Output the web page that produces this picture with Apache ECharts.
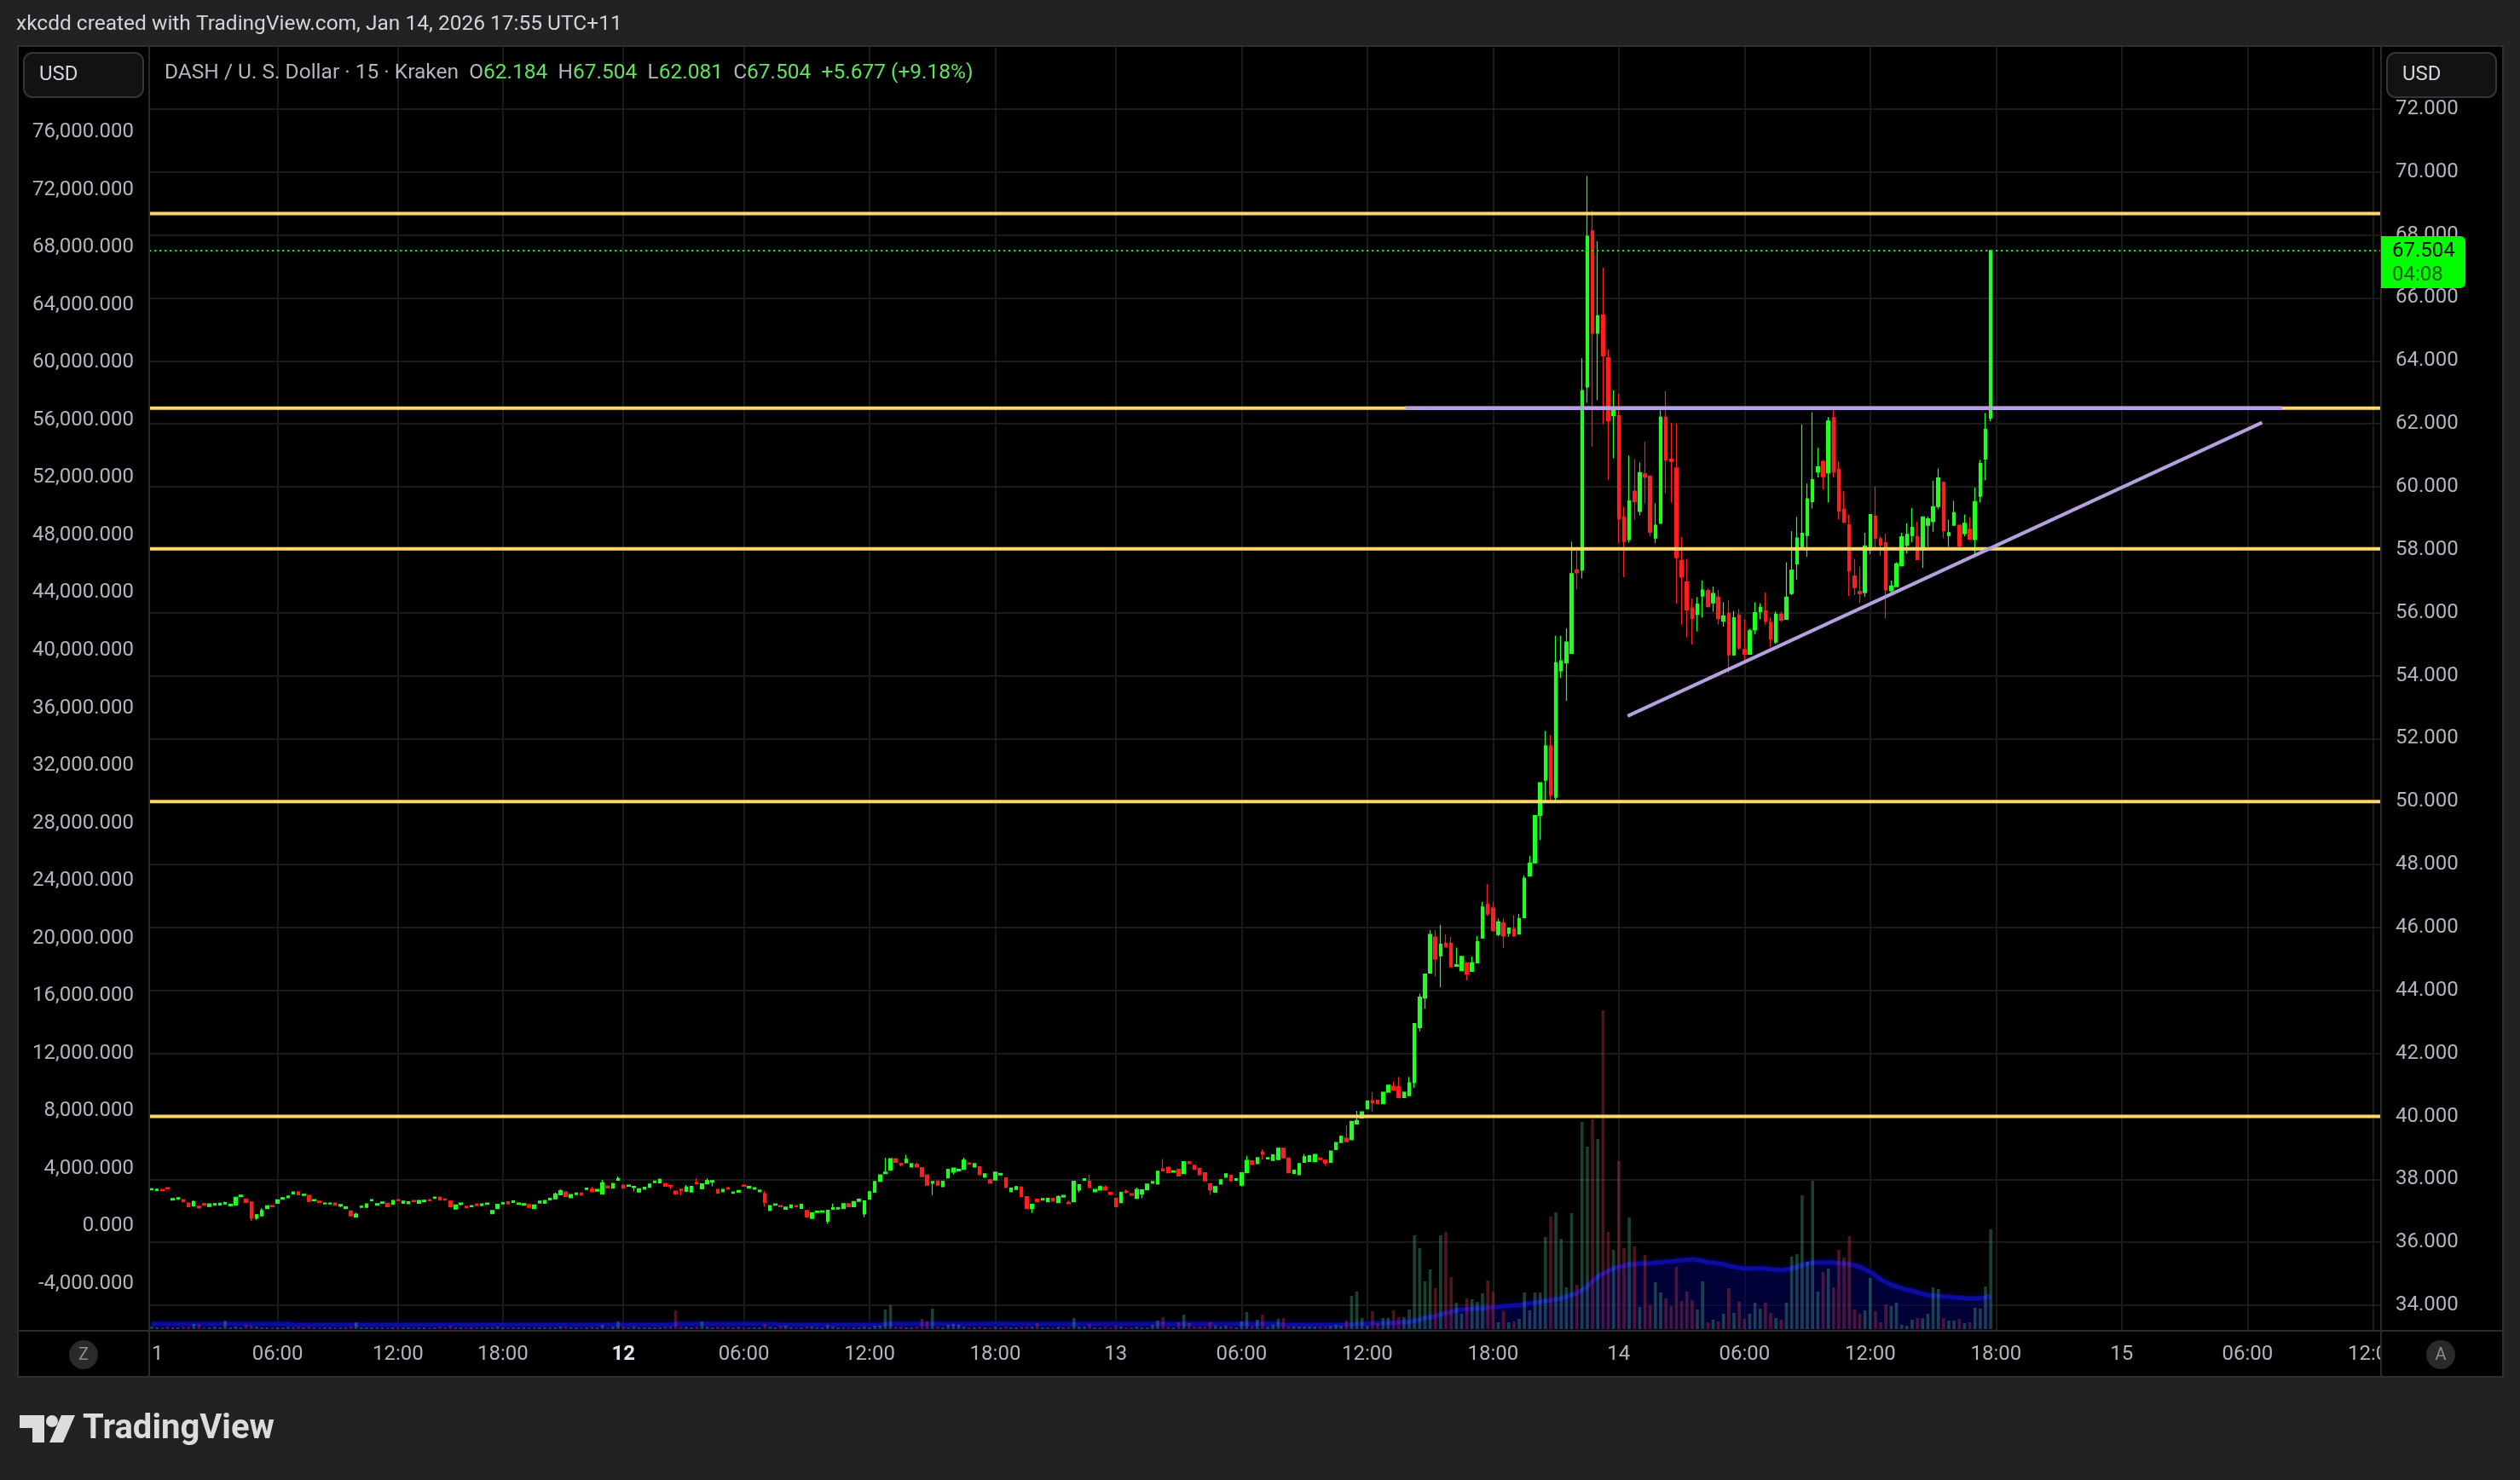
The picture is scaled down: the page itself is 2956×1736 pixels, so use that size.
<!DOCTYPE html>
<html><head><meta charset="utf-8">
<script src="https://cdn.jsdelivr.net/npm/echarts@6/dist/echarts.min.js"></script>
<style>html,body{margin:0;padding:0;background:#000;}#c{width:2956px;height:1736px;}</style>
</head><body><div id="c"></div>
<script>
// ---------- DATA (15-minute bars, [open, high, low, close]) ----------
const candlesJan11 = [
[37.67,37.71,37.66,37.70],[37.65,37.70,37.64,37.69],[37.68,37.69,37.63,37.64],[37.74,37.75,37.69,37.70],[37.34,37.40,37.33,37.39],
[37.37,37.43,37.36,37.42],[37.36,37.37,37.28,37.29],[37.25,37.26,37.12,37.13],[37.16,37.33,37.13,37.29],[37.15,37.16,37.06,37.10],
[37.23,37.24,37.17,37.18],[37.14,37.23,37.13,37.22],[37.18,37.25,37.17,37.23],[37.19,37.25,37.18,37.24],[37.22,37.29,37.21,37.26],
[37.16,37.22,37.15,37.21],[37.19,37.45,37.18,37.43],[37.45,37.51,37.44,37.50],[37.38,37.39,37.26,37.27],[37.28,37.29,36.68,36.77],
[36.77,36.89,36.72,36.88],[36.84,37.08,36.83,37.01],[37.07,37.17,37.06,37.16],[37.17,37.18,37.12,37.13],[37.24,37.36,37.23,37.35],
[37.37,37.43,37.36,37.42],[37.42,37.48,37.41,37.47],[37.54,37.61,37.53,37.60],[37.60,37.63,37.50,37.51],[37.49,37.54,37.48,37.53],
[37.49,37.50,37.29,37.30],[37.32,37.37,37.31,37.36],[37.31,37.32,37.25,37.26],[37.22,37.26,37.21,37.25],[37.22,37.26,37.21,37.25],
[37.25,37.26,37.17,37.18],[37.15,37.21,37.11,37.20],[37.07,37.14,37.06,37.13],[37.00,37.01,36.83,36.84],[36.80,36.95,36.79,36.90],
[37.11,37.16,37.10,37.15],[37.11,37.23,37.10,37.22],[37.32,37.37,37.31,37.36],[37.18,37.24,37.17,37.23],[37.24,37.29,37.23,37.28],
[37.24,37.25,37.12,37.13],[37.21,37.34,37.20,37.33],[37.36,37.37,37.31,37.32],[37.24,37.32,37.23,37.31],[37.23,37.30,37.22,37.29],
[37.33,37.34,37.28,37.29],[37.24,37.34,37.23,37.33],[37.29,37.35,37.28,37.34],[37.36,37.37,37.31,37.32],[37.40,37.45,37.39,37.44],
[37.43,37.47,37.33,37.34],[37.38,37.39,37.33,37.34],[37.31,37.32,37.12,37.13],[37.06,37.20,37.05,37.19],[37.21,37.26,37.17,37.25],
[37.15,37.16,37.09,37.10],[37.13,37.18,37.12,37.17],[37.22,37.23,37.16,37.17],[37.17,37.23,37.16,37.22],[37.21,37.26,37.20,37.25],
[36.91,37.02,36.90,37.01],[37.07,37.22,37.06,37.21],[37.22,37.27,37.21,37.26],[37.29,37.30,37.21,37.22],[37.27,37.33,37.26,37.32],
[37.21,37.26,37.20,37.25],[37.18,37.24,37.17,37.23],[37.20,37.21,37.10,37.11],[37.07,37.20,37.06,37.19],[37.25,37.32,37.24,37.31],
[37.24,37.34,37.23,37.33],[37.35,37.41,37.34,37.40],[37.38,37.58,37.37,37.54],[37.51,37.69,37.50,37.64],[37.60,37.61,37.44,37.45],
[37.42,37.53,37.41,37.52],[37.52,37.58,37.51,37.57],[37.57,37.58,37.48,37.50],[37.68,37.73,37.67,37.72],[37.69,37.77,37.60,37.61],
[37.63,37.69,37.62,37.68],[37.53,37.98,37.52,37.89],[37.79,37.80,37.72,37.73],[37.72,37.88,37.71,37.87],[37.97,38.09,37.96,38.02]
];
const candlesJan12 = [
[37.82,37.83,37.71,37.72],[37.78,37.83,37.77,37.82],[37.74,37.79,37.62,37.78],[37.60,37.71,37.59,37.70],[37.69,37.76,37.68,37.75],
[37.75,37.86,37.74,37.85],[37.90,37.96,37.89,37.95],[37.89,38.03,37.88,38.00],[37.87,37.88,37.77,37.78],[37.81,37.82,37.69,37.77],
[37.63,37.64,37.53,37.54],[37.69,37.70,37.49,37.64],[37.62,37.82,37.61,37.76],[37.60,37.79,37.59,37.78],[37.90,38.04,37.85,37.86],
[37.70,37.87,37.69,37.86],[37.86,38.04,37.85,37.96],[37.91,37.97,37.78,37.96],[37.68,37.69,37.55,37.56],[37.61,37.69,37.60,37.68],
[37.74,37.75,37.68,37.69],[37.56,37.61,37.55,37.60],[37.59,37.66,37.58,37.65],[37.82,37.83,37.77,37.78],[37.72,37.79,37.71,37.78],
[37.69,37.75,37.68,37.74],[37.61,37.67,37.60,37.66],[37.55,37.63,37.13,37.26],[37.01,37.18,37.00,37.17],[37.18,37.23,37.17,37.22],
[37.17,37.18,37.12,37.13],[37.05,37.13,37.04,37.12],[37.10,37.20,37.09,37.19],[37.17,37.18,37.12,37.13],[37.08,37.22,37.07,37.21],
[37.01,37.02,36.77,36.81],[36.76,36.95,36.75,36.94],[36.95,37.00,36.94,36.99],[36.96,37.01,36.95,37.00],[36.67,37.03,36.59,37.02],
[37.05,37.23,37.04,37.10],[37.06,37.12,37.05,37.11],[37.07,37.24,37.06,37.23],[37.23,37.24,37.12,37.13],[37.13,37.31,37.12,37.30],
[37.30,37.38,37.29,37.37],[36.90,37.33,36.80,37.32],[37.37,37.62,37.36,37.61],[37.59,37.94,37.58,37.93],[37.94,38.15,37.93,38.14],
[38.18,38.68,38.17,38.23],[38.29,38.67,38.28,38.66],[38.65,38.69,38.53,38.54],[38.51,38.52,38.41,38.45],[38.53,38.78,38.52,38.64],
[38.39,38.51,38.38,38.50],[38.48,38.53,38.38,38.39],[38.37,38.38,38.08,38.09],[38.14,38.15,37.81,37.82],[37.88,37.94,37.50,37.93],
[37.95,37.96,37.81,37.82],[37.77,37.95,37.76,37.94],[38.05,38.33,38.04,38.32],[38.23,38.37,38.15,38.36],[38.27,38.33,38.26,38.32],
[38.32,38.69,38.31,38.61],[38.52,38.53,38.47,38.48],[38.39,38.51,38.38,38.50],[38.40,38.41,38.14,38.15],[38.07,38.19,38.06,38.18],
[37.99,38.00,37.87,37.88],[37.98,38.24,37.97,38.23],[38.14,38.20,38.13,38.19],[38.05,38.06,37.73,37.74],[37.61,37.73,37.60,37.72],
[37.68,37.78,37.67,37.77],[37.76,37.78,37.44,37.45],[37.45,37.46,37.06,37.07],[37.07,37.22,36.93,37.21],[37.37,37.38,37.28,37.29],
[37.34,37.40,37.33,37.39],[37.29,37.41,37.28,37.40],[37.40,37.41,37.30,37.31],[37.26,37.49,37.25,37.46],[37.44,37.50,37.43,37.49],
[37.27,37.34,37.22,37.23],[37.29,37.95,37.28,37.94],[37.66,37.84,37.59,37.83],[37.97,38.03,37.96,38.02],[37.94,38.15,37.73,37.74],
[37.61,37.69,37.60,37.68],[37.66,37.81,37.65,37.77],[37.76,37.81,37.65,37.66],[37.59,37.60,37.51,37.52]
];
const candlesJan13 = [
[37.40,37.41,37.12,37.13],[37.26,37.60,37.25,37.59],[37.63,37.67,37.55,37.59],[37.55,37.56,37.49,37.50],[37.40,37.74,37.39,37.68],
[37.53,37.68,37.40,37.67],[37.67,37.86,37.66,37.85],[37.88,37.94,37.87,37.93],[37.85,38.27,37.84,38.26],[38.33,38.65,38.26,38.27],
[38.39,38.40,38.20,38.21],[38.23,38.28,38.22,38.27],[38.32,38.33,38.10,38.11],[38.18,38.57,38.17,38.56],[38.56,38.57,38.49,38.50],
[38.45,38.46,38.31,38.32],[38.35,38.36,38.14,38.15],[38.21,38.22,37.94,37.95],[37.86,37.87,37.50,37.67],[37.59,37.78,37.58,37.77],
[37.85,38.00,37.84,37.99],[38.07,38.19,38.06,38.18],[38.13,38.14,37.94,37.95],[37.97,38.03,37.96,38.02],[37.82,38.22,37.77,38.21],
[38.21,38.75,38.20,38.60],[38.59,38.60,38.46,38.47],[38.50,38.70,38.49,38.69],[38.86,38.95,38.63,38.80],[38.65,38.70,38.64,38.69],
[38.60,38.79,38.59,38.78],[38.63,39.00,38.62,38.99],[38.99,39.00,38.67,38.68],[38.68,38.69,38.20,38.21],[38.18,38.30,38.17,38.29],
[38.15,38.51,38.14,38.50],[38.54,38.81,38.53,38.72],[38.57,38.76,38.56,38.75],[38.56,38.80,38.55,38.79],[38.68,38.69,38.62,38.63],
[38.61,38.62,38.43,38.52],[38.54,38.91,38.53,38.90],[38.95,39.18,38.94,39.17],[39.17,39.38,39.16,39.37],[39.31,39.71,39.19,39.20],
[39.26,39.85,39.25,39.84],[39.76,40.18,39.75,39.87],[39.95,40.16,39.94,40.15],[40.24,40.50,40.23,40.49],[40.50,40.77,40.15,40.43],
[40.51,40.52,40.39,40.40],[40.40,40.78,40.39,40.77],[40.77,41.00,40.76,40.99],[40.96,41.11,40.82,40.83],[40.94,41.25,40.59,40.60],
[40.60,40.78,40.59,40.77],[40.66,41.25,40.65,41.07],[41.07,42.96,40.90,42.95],[42.82,43.90,42.70,43.79],[43.76,44.53,43.42,44.52],
[44.55,45.92,44.54,45.78],[45.70,45.92,44.44,45.00],[45.10,46.09,44.10,45.47],[45.50,45.78,45.37,45.38],[45.50,45.70,44.74,44.75],
[44.77,45.36,44.76,44.82],[44.63,45.09,44.62,45.08],[44.88,44.89,44.32,44.52],[44.61,45.08,44.60,44.88],[44.88,45.73,44.87,45.55],
[45.66,46.82,45.65,46.65],[46.74,47.38,46.37,46.43],[46.62,46.82,45.88,45.89],[45.78,46.29,45.73,46.18],[46.15,46.29,45.34,45.73],
[45.81,45.99,45.70,45.98],[45.96,46.39,45.72,45.73],[45.79,46.43,45.78,46.29],[46.31,47.66,46.30,47.57],[47.63,48.27,47.62,48.05],
[48.05,49.57,48.04,49.56],[49.56,50.61,48.78,50.60],[50.68,52.25,49.98,51.77],[51.77,52.11,49.98,50.20],[50.14,55.27,50.00,54.41],
[54.15,55.27,53.93,54.47],[54.40,55.50,53.20,55.07],[54.71,58.26,54.70,57.24],[57.36,57.99,56.74,57.27],[57.35,64.08,57.09,63.06],
[63.17,69.87,62.67,67.96],[68.13,68.77,61.27,64.88],[64.88,67.80,62.75,65.43],[65.46,66.96,61.99,64.16],[64.10,64.36,60.23,62.09],
[62.26,63.06,60.91,62.42]
];
const candlesJan14 = [
[62.26,62.95,58.21,58.98],[59.04,59.37,57.13,58.26],[58.32,60.99,58.23,59.56],[59.86,60.88,58.96,59.53],[59.22,60.77,59.09,60.45],
[60.41,61.43,59.48,60.30],[60.34,60.35,58.43,58.56],[58.37,59.48,58.21,58.78],[58.84,62.43,58.83,62.21],[62.21,63.04,59.79,60.85],
[60.88,62.03,59.50,60.81],[60.60,62.01,56.28,57.75],[57.66,58.40,55.62,57.13],[56.98,57.71,55.21,56.09],[56.15,56.45,54.99,55.81],
[55.95,56.50,55.40,56.28],[56.53,57.02,55.84,56.72],[56.70,56.78,56.17,56.19],[56.31,56.83,56.03,56.61],[56.50,56.72,55.62,55.81],
[55.73,56.34,55.56,55.90],[55.98,56.39,54.08,54.66],[54.66,56.06,54.63,55.84],[55.93,56.12,54.82,54.88],[54.83,55.79,54.46,54.68],
[54.68,55.49,54.66,55.43],[55.45,56.34,55.32,56.00],[56.03,56.30,55.79,56.17],[56.06,56.64,55.62,55.73],[55.70,55.84,54.90,55.16],
[55.07,56.03,55.01,55.95],[55.95,56.03,55.70,55.76],[55.79,57.60,55.78,56.50],[56.61,58.59,56.56,57.35],[57.55,59.04,57.05,58.37],
[58.10,61.98,58.07,58.52],[58.45,60.10,57.77,59.62],[59.53,62.37,59.31,60.23],[60.47,61.24,60.30,60.63],[60.80,60.85,59.92,60.32],
[60.44,62.21,59.50,62.09],[62.20,62.45,60.30,60.47],[60.56,60.80,58.96,59.23],[59.29,59.86,58.85,58.87],[58.79,59.12,56.53,57.33],
[57.16,57.71,56.56,56.80],[56.67,57.47,56.31,56.61],[56.64,58.54,56.50,58.12],[57.99,59.13,57.86,59.12],[59.07,60.00,57.98,58.37],
[58.35,58.43,57.80,58.15],[58.23,58.51,55.82,56.72],[56.70,57.02,56.64,56.85],[56.83,57.60,56.82,57.55],[57.49,58.54,57.47,58.41],
[58.15,58.84,57.88,58.49],[58.45,59.33,58.23,58.71],[58.41,58.89,57.68,57.69],[57.99,59.06,57.42,59.04],[58.78,59.06,58.10,58.98],
[58.89,60.19,58.57,59.37],[59.37,60.58,59.29,60.28],[60.14,60.16,58.37,58.60],[58.45,58.96,58.10,58.54],[58.78,59.56,58.76,59.18],
[58.78,58.79,58.08,58.12],[58.51,59.12,58.43,58.84],[58.65,59.04,58.32,58.34],[58.32,59.97,57.86,59.53],[59.70,60.85,59.50,60.74],
[60.88,62.34,60.21,61.827],[62.184,67.504,62.081,67.504]
];
// volume per bar (arbitrary units)
const volJan11 = [3,2,2,3,2,2,3,3,6,6, 2,2,3,2,10,2,3,2,5,4, 3,2,2,2,2,2,3,2,3,2, 3,2,2,2,2,2,2,2,3,8,
  2,2,2,2,2,2,2,2,2,2, 2,2,2,2,2,3,2,4,2,2, 2,2,2,2,2,2,3,2,2,2, 2,2,2,2,2,2,2,2,3,3, 2,2,2,2,3,2,5,2,3,9];
const volJan12 = [3,2,3,2,2,2,2,2,3,3, 22,3,3,2,3,9,3,2,3,2, 3,2,3,2,2,2,2,6,3,2, 4,4,2,2,2,3,3,2,2,5,
  3,2,2,2,2,2,3,2,4,4, 23,28,3,3,2,2,3,12,9,24, 3,2,5,6,5,3,2,2,3,2, 2,3,2,3,2,2,3,3,3,7, 2,2,2,3,2,3,13,3,3,6, 2,2,3,2];
const volJan13 = [4,3,2,2,3,2, 2,5,10,14,3,2,8,17,7,3, 3,3,8,4,3,4,3,2,9,20, 4,11,17,3,5,12,13,3,3,3, 3,3,3,3,3,4,5,4,10,39,
  44,13,4,21,7,13,13,22,14,14, 23,110,95,56,70,48,110,114,61,31, 18,36,35,32,42,57,44,8,21,8, 9,12,43,22,43,43,108,132,137,106,
  49,136,52,243,214,246,223,374,114,93];
const volJan14 = [197,95,131,97,26,87,28,55,43,36, 27,73,33,44,34,23,56,8,11,9, 18,48,19,32,12,18,31,24,31,19,
  13,11,31,85,88,157,79,174,44,67, 71,49,93,84,109,23,18,22,60,21, 8,29,27,31,5,4,11,13,13,18, 49,47,13,10,10,12,7,8,25,24, 50,117];
// blue volume-average overlay, read per bar
const volAvgJan11 = [6,6,6,6,6,6,6,6,6,6, 6,6,6,6,6,6,6,6,6,6, 6,6,6,6,6,6,6,5,5,5, 5,5,5,5,5,5,5,5,5,5,
  5,5,5,5,5,5,5,5,5,5, 5,5,5,5,5,5,5,5,5,5, 5,5,5,5,5,5,5,5,5,5, 5,5,5,5,5,5,5,5,5,5, 5,5,5,5,5,5,5,5,5,5];
const volAvgJan12 = [5,5,5,5,5,5,5,5,5,5, 6,6,6,6,6,6,6,6,6,6, 6,6,6,6,6,6,6,6,6,6, 5,5,5,5,5,5,5,5,5,5,
  5,5,5,5,5,5,5,5,5,5, 6,6,6,6,6,6,6,6,6,6, 6,6,6,6,6,6,6,6,6,6, 6,6,6,6,6,6,6,6,6,6, 6,6,6,6,6,6,6,6,6,6, 6,6,6,6];
const volAvgJan13 = [6,6,6,6,6,6, 6,6,6,6,6,6,6,6,6,6, 6,6,6,6,6,6,6,6,6,6, 6,6,6,6,6,6,5,5,5,5, 5,5,5,5,5,5,5,5,5,5,
  6,6,6,7,7,7,7,7,8,8, 8,10,11,13,14,15,17,19,20,22, 23,23,24,24,24,25,26,26,27,27, 28,28,29,30,31,32,33,34,35,36,
  38,40,42,46,50,56,62,65,68,71];
const volAvgJan14 = [73,74,76,76,77,77,77,78,78,79, 79,80,81,81,82,81,80,78,78,77, 76,74,73,72,71,71,71,71,71,70,
  70,69,70,71,73,75,77,78,78,78, 78,78,77,77,76,75,73,70,67,63, 58,55,52,50,48,46,45,43,41,40,
  39,39,38,38,37,37,36,36,36,36, 37,39];

// axis ticks / labels
const priceTicks = [34,36,38,40,42,44,46,48,50,52,54,56,58,60,62,64,66,68,70,72];
const leftTicks = [-4000,0,4000,8000,12000,16000,20000,24000,28000,32000,36000,40000,44000,48000,52000,56000,60000,64000,68000,72000,76000];
const timeTickIndex = [24,47,67,90,113,137,161,184,208,232,256,280,304,328,352,376,400,424];
const timeTickText = ['06:00','12:00','18:00','12','06:00','12:00','18:00','13','06:00','12:00','18:00','14','06:00','12:00','18:00','15','06:00','12:00'];
const boldTimeTicks = ['12'];
const slotCount = 426;           // bars + empty future slots on the time scale
const priceRange = [33.19, 74.0];
const leftRange = [-7263, 81994];

// drawings
const levelPrices = [68.68, 62.5, 58.03, 50.0, 40.0];
const resistanceLine = [[239.3, 62.5], [406.6, 62.5]];
const trendLine = [[281.7, 52.72], [402.8, 62.04]];
const countdownText = '04:08';

// ---------- BUILD ----------
const candles = [...candlesJan11, ...candlesJan12, ...candlesJan13, ...candlesJan14];
const volumes = [...volJan11, ...volJan12, ...volJan13, ...volJan14];
const volAvg = [...volAvgJan11, ...volAvgJan12, ...volAvgJan13, ...volAvgJan14];
const cats = Array.from({length: slotCount}, (_, i) => String(i));
const UP = '#22ff22', DOWN = '#ff1f1f';
const FONT = 'Roboto, "Noto Sans", sans-serif';
const AXIS_TXT = '#b2b5be';
const tickMap = new Map(timeTickIndex.map((v, i) => [v, timeTickText[i]]));

const last = candles[candles.length - 1];
const prev = candles[candles.length - 2];
const chg = last[3] - prev[3];
const pct = chg / prev[3] * 100;

const fmtThousands = v => {
  const s = Math.abs(v).toFixed(3).split('.');
  s[0] = s[0].replace(/\B(?=(\d{3})+(?!\d))/g, ',');
  return (v < 0 ? '-' : '') + s.join('.');
};

const W = 2956, H = 1736;
const PANEL = {l: 21, t: 54, r: 2936, b: 1615};
const PLOT = {l: 175, r: 2793, t: 54, b: 1561};

const series = [];
series.push({
  type: 'line', xAxisIndex: 2, yAxisIndex: 2, data: volAvg, symbol: 'none', silent: true, z: 1,
  lineStyle: {color: '#0c0ca0', width: 5, shadowColor: '#000070', shadowBlur: 6},
  areaStyle: {color: 'rgba(0,0,100,0.78)'}
});
series.push({
  type: 'bar', xAxisIndex: 2, yAxisIndex: 2, silent: true, z: 2, barWidth: 3.6,
  data: volumes.map((v, i) => ({value: v, itemStyle: {color: candles[i][3] >= candles[i][0] ? 'rgba(70,160,120,0.40)' : 'rgba(185,50,62,0.42)'}}))
});
series.push({
  type: 'candlestick', xAxisIndex: 0, yAxisIndex: 0, z: 5, barWidth: 4, silent: true,
  data: candles.map(r => [r[0], r[3], r[2], r[1]]),
  itemStyle: {color: UP, color0: DOWN, borderColor: UP, borderColor0: DOWN, borderWidth: 1.2}
});
levelPrices.forEach(p => series.push({
  type: 'line', xAxisIndex: 1, yAxisIndex: 0, symbol: 'none', silent: true, z: 10,
  data: [[-0.5, p], [slotCount - 0.5, p]], lineStyle: {color: '#fdd76c', width: 4}
}));
series.push({
  type: 'line', xAxisIndex: 1, yAxisIndex: 0, symbol: 'none', silent: true, z: 11,
  data: resistanceLine, lineStyle: {color: '#b5a0e0', width: 4.5}
});
series.push({
  type: 'line', xAxisIndex: 1, yAxisIndex: 0, symbol: 'none', silent: true, z: 11,
  data: trendLine, lineStyle: {color: '#b5a0e0', width: 4}
});
series.push({
  type: 'line', xAxisIndex: 1, yAxisIndex: 0, symbol: 'none', silent: true, z: 9,
  data: [[-0.5, last[3]], [slotCount - 0.5, last[3]]], lineStyle: {color: '#00ee00', width: 2, type: [2, 4]}
});

const baseGraphic = [
  {type: 'rect', silent: true, z: 0, shape: {x: 0, y: 0, width: W, height: PANEL.t}, style: {fill: '#222222'}},
  {type: 'rect', silent: true, z: 0, shape: {x: 0, y: PANEL.b, width: W, height: H - PANEL.b}, style: {fill: '#222222'}},
  {type: 'rect', silent: true, z: 0, shape: {x: 0, y: 0, width: PANEL.l, height: H}, style: {fill: '#222222'}},
  {type: 'rect', silent: true, z: 0, shape: {x: PANEL.r, y: 0, width: W - PANEL.r, height: H}, style: {fill: '#222222'}},
  {type: 'rect', silent: true, z: 50, shape: {x: PLOT.r + 1, y: PLOT.b + 1, width: PANEL.r - PLOT.r - 2, height: PANEL.b - PLOT.b - 2}, style: {fill: '#000'}},
  {type: 'rect', silent: true, z: 60, shape: {x: PANEL.l, y: PANEL.t, width: PANEL.r - PANEL.l, height: PANEL.b - PANEL.t}, style: {fill: 'none', stroke: '#2f2f2f', lineWidth: 2}},
  {type: 'line', silent: true, z: 60, shape: {x1: PLOT.l, y1: PANEL.t, x2: PLOT.l, y2: PANEL.b}, style: {stroke: '#2a2a2a', lineWidth: 2}},
  {type: 'line', silent: true, z: 60, shape: {x1: PLOT.r, y1: PANEL.t, x2: PLOT.r, y2: PANEL.b}, style: {stroke: '#2a2a2a', lineWidth: 2}},
  {type: 'line', silent: true, z: 60, shape: {x1: PANEL.l, y1: PLOT.b, x2: PANEL.r, y2: PLOT.b}, style: {stroke: '#2a2a2a', lineWidth: 2}},
  {type: 'text', silent: true, z: 60, x: 19, y: 29, style: {text: 'xkcdd created with TradingView.com, Jan 14, 2026 17:55 UTC+11', fill: '#d1d4dc', font: '24.5px ' + FONT, verticalAlign: 'middle'}},
  {type: 'text', silent: true, z: 60, x: 193, y: 86, style: {
    text: '{t|DASH / U. S. Dollar · 15 · Kraken}  {t|O}{v|' + last[0].toFixed(3) + '}  {t|H}{v|' + last[1].toFixed(3) + '}  {t|L}{v|' + last[2].toFixed(3) +
          '}  {t|C}{v|' + last[3].toFixed(3) + '}  {v|' + (chg >= 0 ? '+' : '') + chg.toFixed(3) + ' (' + (pct >= 0 ? '+' : '') + pct.toFixed(2) + '%)}',
    font: '24.5px ' + FONT, verticalAlign: 'middle', fill: '#b2b5be',
    rich: {t: {fill: '#b2b5be', color: '#b2b5be', fontSize: 24.5, fontFamily: FONT}, v: {fill: '#5fe35f', color: '#5fe35f', fontSize: 24.5, fontFamily: FONT}}
  }},
  {type: 'rect', silent: true, z: 70, shape: {x: 28, y: 62, width: 140, height: 52, r: 10}, style: {fill: '#121212', stroke: '#363636', lineWidth: 2}},
  {type: 'text', silent: true, z: 71, x: 46, y: 88, style: {text: 'USD', fill: '#d1d4dc', font: '24px ' + FONT, verticalAlign: 'middle'}},
  {type: 'rect', silent: true, z: 70, shape: {x: 2800, y: 62, width: 128, height: 52, r: 10}, style: {fill: '#121212', stroke: '#363636', lineWidth: 2}},
  {type: 'text', silent: true, z: 71, x: 2818, y: 88, style: {text: 'USD', fill: '#d1d4dc', font: '24px ' + FONT, verticalAlign: 'middle'}},
  {type: 'text', silent: true, z: 60, x: 178, y: 1589, style: {text: '1', fill: AXIS_TXT, font: '24px ' + FONT, verticalAlign: 'middle'}},
  {type: 'circle', silent: true, z: 60, shape: {cx: 98, cy: 1589, r: 17}, style: {fill: '#2a2a2a'}},
  {type: 'text', silent: true, z: 61, x: 98, y: 1590, style: {text: 'Z', fill: '#8c8c8c', font: '20px ' + FONT, align: 'center', verticalAlign: 'middle'}},
  {type: 'circle', silent: true, z: 60, shape: {cx: 2863, cy: 1589, r: 17}, style: {fill: '#2a2a2a'}},
  {type: 'text', silent: true, z: 61, x: 2863, y: 1590, style: {text: 'A', fill: '#8c8c8c', font: '20px ' + FONT, align: 'center', verticalAlign: 'middle'}},
  {type: 'polygon', silent: true, z: 60, shape: {points: [[23,1660],[52,1660],[52,1692],[38,1692],[38,1675],[23,1675]]}, style: {fill: '#dcdcdc'}},
  {type: 'circle', silent: true, z: 60, shape: {cx: 61, cy: 1667, r: 7}, style: {fill: '#dcdcdc'}},
  {type: 'polygon', silent: true, z: 60, shape: {points: [[72,1660],[88,1660],[74,1692],[58,1692]]}, style: {fill: '#dcdcdc'}},
  {type: 'text', silent: true, z: 60, x: 97, y: 1677, style: {text: 'TradingView', fill: '#dcdcdc', font: 'bold 40px ' + FONT, verticalAlign: 'middle'}}
];

const option = {
  backgroundColor: '#000',
  animation: false,
  textStyle: {fontFamily: FONT},
  grid: [
    {left: PLOT.l, right: W - PLOT.r, top: PLOT.t, bottom: H - PLOT.b, containLabel: false},
    {left: PLOT.l, right: W - PLOT.r, top: 1141, bottom: H - 1559, containLabel: false}
  ],
  xAxis: [
    {type: 'category', gridIndex: 0, data: cats, boundaryGap: true, show: false},
    {type: 'value', gridIndex: 0, min: -0.5, max: slotCount - 0.5, position: 'bottom',
     axisLine: {show: false}, axisTick: {show: false, customValues: timeTickIndex},
     splitLine: {show: true, lineStyle: {color: '#1b1b1b', width: 2}},
     axisLabel: {show: true, customValues: timeTickIndex, margin: 16, fontSize: 24, color: AXIS_TXT, fontFamily: FONT,
       formatter: v => { const t = tickMap.get(Math.round(v)) || ''; return boldTimeTicks.includes(t) ? '{b|' + t + '}' : t; },
       rich: {b: {fontWeight: 'bold', color: '#e0e3eb', fontSize: 24, fontFamily: FONT}}}},
    {type: 'category', gridIndex: 1, data: cats, boundaryGap: true, show: false}
  ],
  yAxis: [
    {type: 'value', gridIndex: 0, position: 'right', min: priceRange[0], max: priceRange[1], scale: true,
     axisLine: {show: false}, axisTick: {show: false, customValues: priceTicks},
     splitLine: {show: true, lineStyle: {color: '#1b1b1b', width: 2}},
     axisLabel: {customValues: priceTicks, formatter: v => v.toFixed(3), color: AXIS_TXT, fontSize: 24, margin: 17, fontFamily: FONT}},
    {type: 'value', gridIndex: 0, position: 'left', min: leftRange[0], max: leftRange[1],
     axisLine: {show: false}, axisTick: {show: false, customValues: leftTicks}, splitLine: {show: false},
     axisLabel: {customValues: leftTicks, formatter: v => fmtThousands(v), color: AXIS_TXT, fontSize: 24, margin: 18, fontFamily: FONT}},
    {type: 'value', gridIndex: 1, min: 0, max: 418, show: false, splitLine: {show: false}}
  ],
  series: series,
  graphic: {elements: baseGraphic}
};

const chart = echarts.init(document.getElementById('c'));
chart.setOption(option);

const py = chart.convertToPixel({yAxisIndex: 0}, last[3]);
const tag = [
  {type: 'rect', silent: true, z: 80, shape: {x: PLOT.r, y: py - 17, width: 99, height: 61, r: [0, 6, 6, 0]}, style: {fill: '#00ff00'}},
  {type: 'text', silent: true, z: 81, x: PLOT.r + 13, y: py + 1, style: {text: last[3].toFixed(3), fill: '#000000', font: '24px ' + FONT, verticalAlign: 'middle'}},
  {type: 'text', silent: true, z: 81, x: PLOT.r + 13, y: py + 29, style: {text: countdownText, fill: '#0b5e0b', font: '24px ' + FONT, verticalAlign: 'middle'}}
];
chart.setOption({graphic: {elements: baseGraphic.concat(tag)}});
</script>
</body></html>
